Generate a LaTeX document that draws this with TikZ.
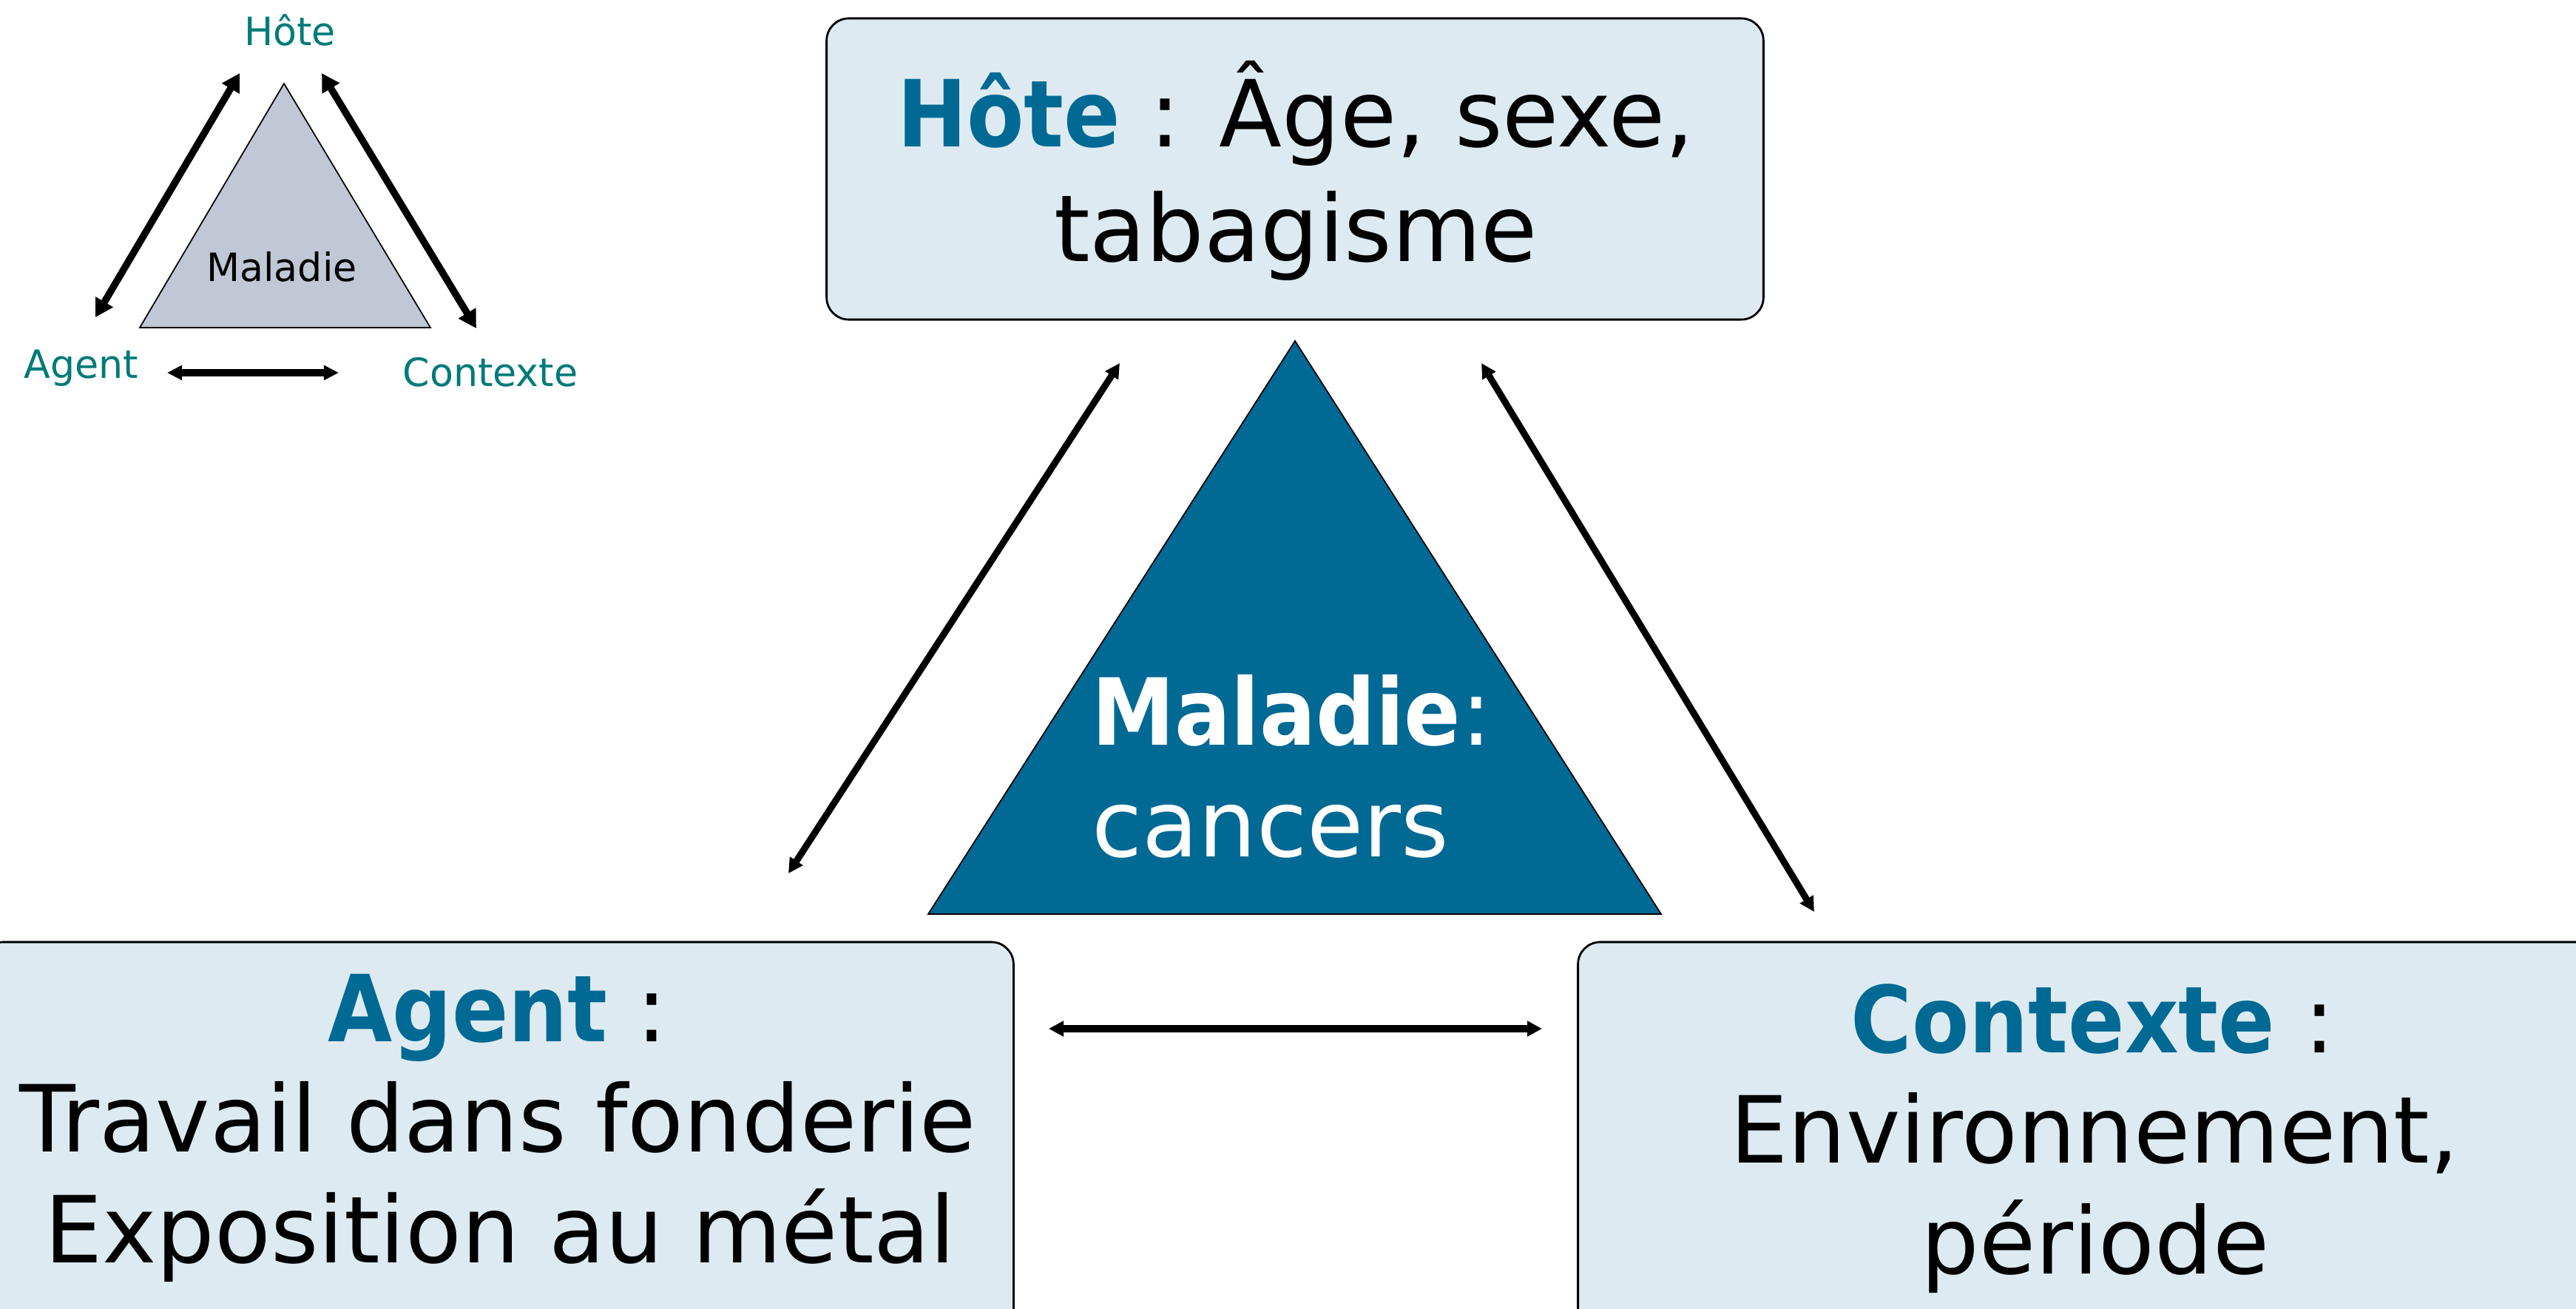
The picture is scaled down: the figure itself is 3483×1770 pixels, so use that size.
\documentclass[tikz,border=0pt]{standalone}
\usepackage{fontspec}
\setmainfont{DejaVu Sans}[FakeStretch=0.99, BoldFeatures={FakeStretch=0.9}]
\usetikzlibrary{arrows.meta}
\definecolor{boxfill}{HTML}{DEEAF1}
\definecolor{deepblue}{HTML}{006994}
\definecolor{smallfill}{HTML}{C0C8D6}
\definecolor{tealtext}{HTML}{007A7A}
\tikzset{
  bigtext/.style={font=\fontsize{35.6pt}{42pt}\selectfont, inner sep=0pt, anchor=base},
  smalltext/.style={font=\fontsize{15pt}{18pt}\selectfont, inner sep=0pt, anchor=base, text=tealtext},
  infobox/.style={draw=black, line width=0.8pt, fill=boxfill, rounded corners=0.3cm, inner sep=0pt},
  bigarrow/.style={line width=0.09cm, {Triangle[length=0.2cm,width=0.2cm]}-{Triangle[length=0.2cm,width=0.2cm]}},
  bigharrow/.style={line width=0.1cm, {Triangle[length=0.2cm,width=0.2cm]}-{Triangle[length=0.2cm,width=0.2cm]}},
  smallarrow/.style={line width=0.095cm, {Triangle[length=0.24cm,width=0.26cm]}-{Triangle[length=0.24cm,width=0.26cm]}},
  smallharrow/.style={line width=0.1cm, {Triangle[length=0.2cm,width=0.19cm]}-{Triangle[length=0.2cm,width=0.19cm]}},
}
\newcommand{\kw}[1]{{\bfseries\color{deepblue}#1}}
\begin{document}
\begin{tikzpicture}[x=0.01cm, y=-0.01cm]
\useasboundingbox (0,0) rectangle (3483,1770);
\clip (0,0) rectangle (3483,1770);

% ---------- small diagram (top left) ----------
\coordinate (sA) at (384,113);
\coordinate (sB) at (189,443);
\coordinate (sC) at (582,443);
\draw[fill=smallfill, draw=black, line width=0.5pt] (sA) -- (sB) -- (sC) -- cycle;
\node[smalltext, text=black] (smal) at (381,381) {Maladie};
\node[smalltext] (shote) at (392,62) {Hôte};
\node[smalltext] (sagent) at (110,512) {Agent};
\node[smalltext] (scont) at (663,523) {Contexte};

\coordinate (sl1) at (324,99);
\coordinate (sl2) at (129,429);
\coordinate (sr1) at (435,99);
\coordinate (sr2) at (644,444);
\coordinate (sh1) at (226,504);
\coordinate (sh2) at (458,504);
\draw[smallarrow] (sl1) -- (sl2);
\draw[smallarrow] (sr1) -- (sr2);
\draw[smallharrow] (sh1) -- (sh2);

% ---------- boxes ----------
\node[infobox, minimum width=12.66cm, minimum height=4.07cm] (hote) at (1751,228.5) {};
\node[infobox, minimum width=13.95cm, minimum height=5.36cm] (agent) at (672.5,1542) {};
\node[infobox, minimum width=13.96cm, minimum height=5.36cm] (cont) at (2832,1542) {};

\node[bigtext] (hote1) at (1752,199) {\kw{Hôte} : Âge, sexe,};
\node[bigtext] (hote2) at (1752,354) {tabagisme};

\node[bigtext] (agent1) at (673,1408) {\kw{Agent} :};
\node[bigtext] (agent2) at (673,1557) {Travail dans fonderie};
\node[bigtext] (agent3) at (676,1707) {Exposition au métal};

\node[bigtext] (cont1) at (2830,1423) {\kw{Contexte} :};
\node[bigtext] (cont2) at (2832,1572) {Environnement,};
\node[bigtext] (cont3) at (2833,1722) {période};

% ---------- central triangle ----------
\coordinate (tA) at (1751,461);
\coordinate (tB) at (1255,1236);
\coordinate (tC) at (2246,1236);
\draw[fill=deepblue, draw=black, line width=0.5pt] (tA) -- (tB) -- (tC) -- cycle;
\node[bigtext, anchor=base west, text=white] (mal1) at (1476,1008) {\textbf{Maladie}:};
\node[bigtext, anchor=base west, text=white] (mal2) at (1476,1158) {cancers};

% ---------- arrows ----------
\coordinate (l1) at (1514,491);
\coordinate (l2) at (1066,1181);
\coordinate (r1) at (2003,491);
\coordinate (r2) at (2453,1233);
\coordinate (h1) at (1418,1391);
\coordinate (h2) at (2085,1391);
\draw[bigarrow] (l1) -- (l2);
\draw[bigarrow] (r1) -- (r2);
\draw[bigharrow] (h1) -- (h2);
\end{tikzpicture}
\end{document}
